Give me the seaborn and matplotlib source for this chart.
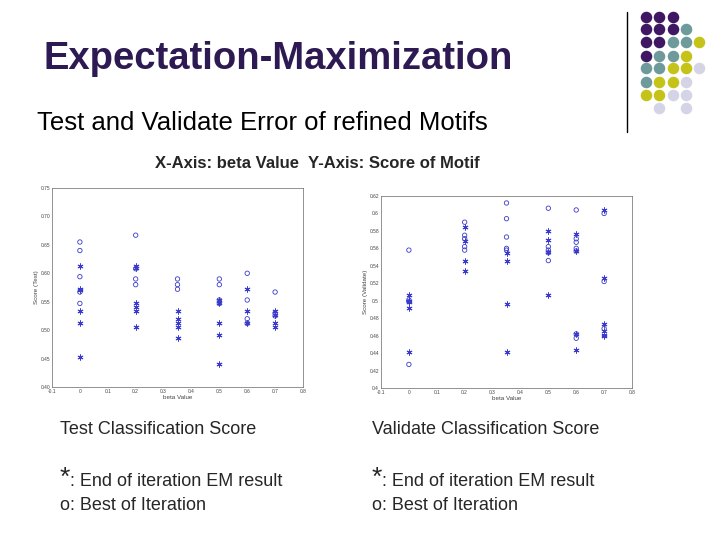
import seaborn as sns
import pandas as pd
import matplotlib.pyplot as plt

# Test classification score (left)
test_best_x = [0]*5 + [0.2]*4 + [0.35]*3 + [0.5]*4 + [0.6]*4 + [0.7]*3
test_best_y = [0.655, 0.64, 0.594, 0.567, 0.547,
               0.667, 0.608, 0.59, 0.58,
               0.59, 0.58, 0.572,
               0.59, 0.58, 0.553, 0.547,
               0.6, 0.553, 0.52, 0.512,
               0.567, 0.53, 0.525]
test_end_x = [0]*6 + [0.2]*6 + [0.35]*5 + [0.5]*5 + [0.6]*3 + [0.7]*4
test_end_y = [0.613, 0.573, 0.57, 0.534, 0.512, 0.453,
              0.613, 0.61, 0.547, 0.54, 0.534, 0.506,
              0.534, 0.52, 0.512, 0.506, 0.486,
              0.553, 0.547, 0.512, 0.492, 0.44,
              0.573, 0.534, 0.512,
              0.534, 0.527, 0.512, 0.506]

# Validate classification score (right)
val_best_x = [0]*4 + [0.2]*5 + [0.35]*5 + [0.5]*5 + [0.6]*7 + [0.7]*3
val_best_y = [0.558, 0.501, 0.499, 0.427,
              0.59, 0.575, 0.571, 0.562, 0.558,
              0.612, 0.594, 0.573, 0.56, 0.558,
              0.606, 0.562, 0.558, 0.555, 0.546,
              0.604, 0.571, 0.567, 0.56, 0.557, 0.462, 0.457,
              0.6, 0.522, 0.468]
val_end_x = [0]*5 + [0.2]*4 + [0.35]*4 + [0.5]*4 + [0.6]*4 + [0.7]*6
val_end_y = [0.506, 0.5, 0.498, 0.492, 0.441,
             0.584, 0.568, 0.546, 0.534,
             0.555, 0.546, 0.496, 0.441,
             0.58, 0.57, 0.556, 0.506,
             0.576, 0.557, 0.462, 0.443,
             0.604, 0.526, 0.473, 0.465, 0.461, 0.46]

# decorative dot grid
dot_pattern = ["PPP", "PPPT", "PPTTY", "PTTY", "TTYYL", "TYYL", "YYLL", " L L"]
dot_colors = {"P": "#3f1763", "T": "#6f9a9c", "Y": "#c6c318", "L": "#d4d4e6"}

sns.set_theme(style="white")
plt.rcParams['font.family'] = ['Liberation Sans', 'DejaVu Sans']
fig = plt.figure(figsize=(7.2, 5.4), dpi=100)
W, H = 720, 540

def px_axes(l, t, r, b):
    return fig.add_axes([l / W, 1 - b / H, (r - l) / W, (b - t) / H])

blue = "#3a3acc"

def panel(ax, bx, by, ex, ey, ylim, yticks, ylabel):
    sns.scatterplot(x=bx, y=by, ax=ax, marker="o", s=10, facecolor="none",
                    edgecolor=blue, linewidth=0.6)
    sns.scatterplot(x=ex, y=ey, ax=ax, marker=(6, 2, 0), s=14, color=blue,
                    linewidth=0.7)
    ax.set_xlim(-0.1, 0.8)
    ax.set_ylim(*ylim)
    ax.set_xticks([-0.1, 0, 0.1, 0.2, 0.3, 0.4, 0.5, 0.6, 0.7, 0.8])
    ax.set_xticklabels(["-0.1", "0", "0.1", "0.2", "0.3", "0.4", "0.5", "0.6", "0.7", "0.8"])
    ax.set_yticks(yticks)
    ax.tick_params(labelsize=3.5, length=2, direction="in", pad=1.5, colors="#444444")
    ax.set_xlabel("beta Value", fontsize=4.5, labelpad=1, color="#444444")
    ax.set_ylabel(ylabel, fontsize=4.5, labelpad=1, color="#444444")
    for s in ax.spines.values():
        s.set_linewidth(0.5)
        s.set_color("#666666")

ax1 = px_axes(52, 188, 303, 387)
panel(ax1, test_best_x, test_best_y, test_end_x, test_end_y, (0.4, 0.75),
      [0.4, 0.45, 0.5, 0.55, 0.6, 0.65, 0.7, 0.75], "Score (Test)")
ax2 = px_axes(381, 196, 632, 388)
panel(ax2, val_best_x, val_best_y, val_end_x, val_end_y, (0.4, 0.62),
      [0.4, 0.42, 0.44, 0.46, 0.48, 0.5, 0.52, 0.54, 0.56, 0.58, 0.6, 0.62], "Score (Validate)")
ax2.set_yticklabels(["0.4", "0.42", "0.44", "0.46", "0.48", "0.5", "0.52", "0.54", "0.56", "0.58", "0.6", "0.62"])

# slide text
def t(x, y, s, **kw):
    fig.text(x / W, 1 - y / H, s, va="center", **kw)

t(43, 59, "Expectation-Maximization", fontsize=27.5, fontweight="bold", color="#2d1a52")
t(37, 123, "Test and Validate Error of refined Motifs", fontsize=18.5, color="black")
t(155, 163, "X-Axis: beta Value  Y-Axis: Score of Motif", fontsize=12, fontweight="bold")
t(60, 429, "Test Classification Score", fontsize=13)
t(372, 429, "Validate Classification Score", fontsize=13)
for x0 in (60, 372):
    t(x0, 478, "*", fontsize=19)
    t(x0 + 10, 482, ": End of iteration EM result", fontsize=13)
    t(x0, 506, "o: Best of Iteration", fontsize=13)

# decoration
fig.add_artist(plt.Line2D([627 / W, 627 / W], [1 - 12 / H, 1 - 132 / H], color="black", lw=1))
cols = [646, 659, 673, 686, 699]
rows = [17, 29, 42, 56, 68, 82, 95, 108]
for r, line in enumerate(dot_pattern):
    for c, k in enumerate(line):
        if k != " ":
            fig.add_artist(plt.Line2D([cols[c] / W], [1 - rows[r] / H], marker="o",
                                      markersize=7.3, color=dot_colors[k], lw=0,
                                      transform=fig.transFigure))

fig.savefig("out.png", dpi=100)
